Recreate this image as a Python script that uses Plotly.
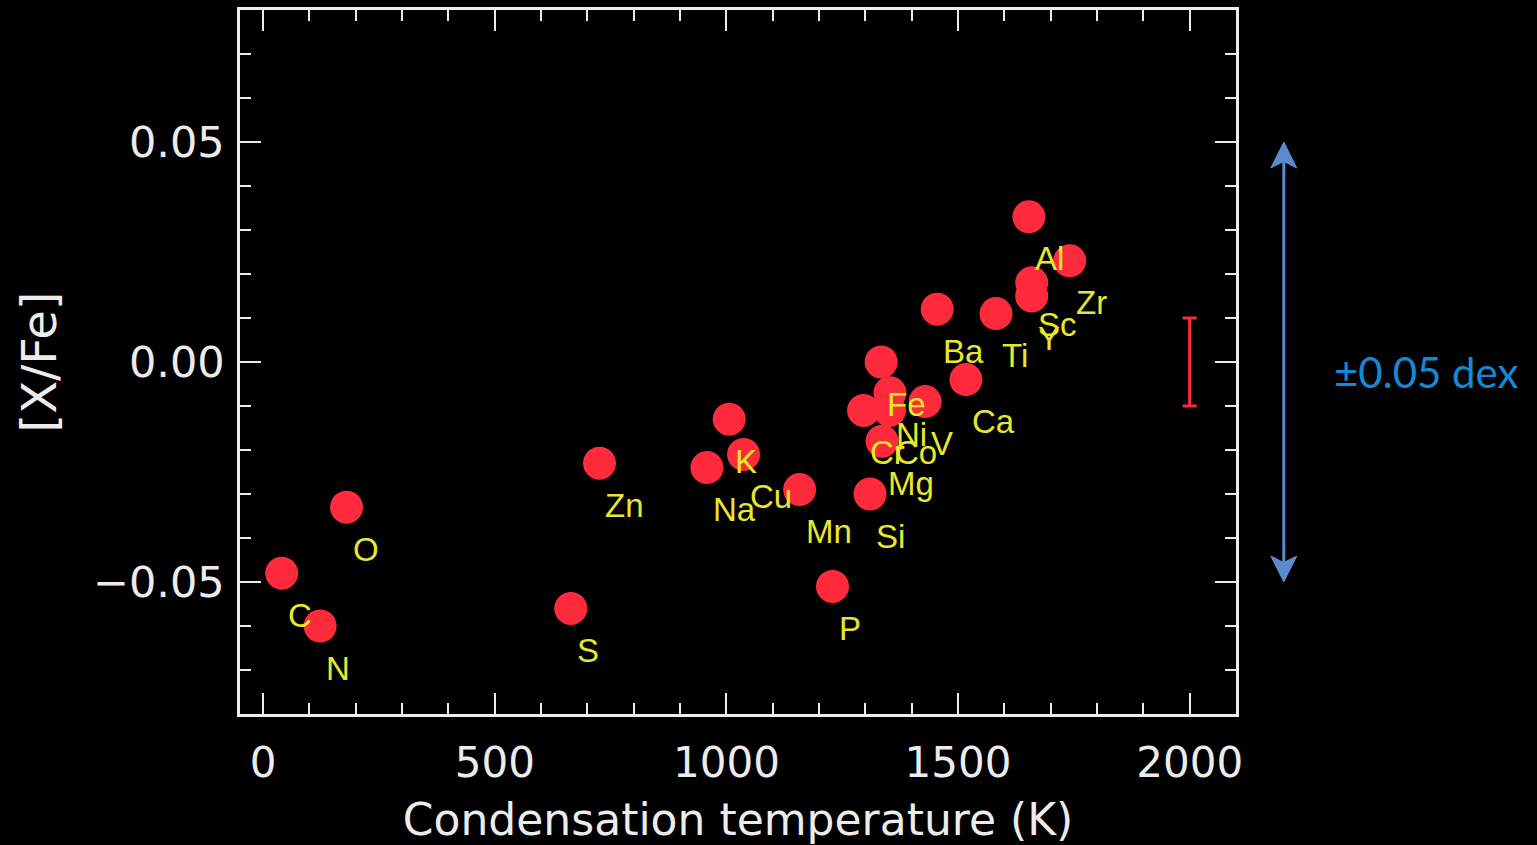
import plotly.graph_objects as go

# ---- data ----
elements = ["C", "N", "O", "S", "Zn", "Na", "K", "Cu", "Mn", "P", "Cr", "Si",
            "Fe", "Mg", "Co", "Ni", "V", "Ba", "Ca", "Ti", "Al", "Sc", "Y", "Zr"]
tcond = [40, 123, 180, 664, 726, 958, 1006, 1037, 1158, 1229, 1296, 1310,
         1334, 1336, 1352, 1353, 1429, 1455, 1517, 1582, 1653, 1659, 1659, 1741]
xfe = [-0.048, -0.060, -0.033, -0.056, -0.023, -0.024, -0.013, -0.021, -0.029,
       -0.051, -0.011, -0.030, 0.000, -0.018, -0.011, -0.007, -0.009, 0.012,
       -0.004, 0.011, 0.033, 0.018, 0.015, 0.023]

err_x = [2000]
err_y = [0.0]
err_val = [0.01]

dex = 0.05
dex_label = "±0.05 dex"

x_title = "Condensation temperature (K)"
y_title = "[X/Fe]"

RED = "#ff2b3d"
YELLOW = "#e8e82a"
WHITE = "#ececec"
BLUE_ARROW = "#5b8bcf"
BLUE_TEXT = "#128ad6"
FONT = "DejaVu Sans"

fig = go.Figure()

fig.add_trace(go.Scatter(
    x=tcond, y=xfe, mode="markers",
    marker=dict(size=33, color=RED, line=dict(width=0)),
    hoverinfo="text", text=elements, showlegend=False,
))

fig.add_trace(go.Scatter(
    x=err_x, y=err_y, mode="markers",
    marker=dict(size=1, color=RED),
    error_y=dict(type="data", array=err_val, color=RED, thickness=3, width=7),
    showlegend=False, hoverinfo="skip",
))

annotations = []
for el, xv, yv in zip(elements, tcond, xfe):
    annotations.append(dict(
        x=xv, y=yv, xref="x", yref="y", text=el, showarrow=False,
        xanchor="left", yanchor="middle", xshift=4, yshift=-42,
        font=dict(family="Liberation Sans", size=33, color=YELLOW),
    ))

# "±0.05 dex" side note
arrow_x = 1.048
head_len = 0.0059
head_half = 0.013
annotations.append(dict(
    x=1.096, y=0.486, xref="paper", yref="paper", text=dex_label,
    showarrow=False, xanchor="left", yanchor="middle",
    font=dict(family="Lato", size=42, color=BLUE_TEXT),
))

shapes = [
    dict(type="line", xref="paper", yref="y",
         x0=arrow_x, x1=arrow_x, y0=-dex + head_len * 0.6, y1=dex - head_len * 0.6,
         line=dict(color=BLUE_ARROW, width=3)),
]
for sgn in (1, -1):
    tip = sgn * dex
    base = tip - sgn * head_len
    notch = tip - sgn * head_len * 0.75
    path = (f"M {arrow_x},{tip} L {arrow_x - head_half},{base} "
            f"L {arrow_x},{notch} L {arrow_x + head_half},{base} Z")
    shapes.append(dict(type="path", xref="paper", yref="y", path=path,
                       fillcolor=BLUE_ARROW, line=dict(color=BLUE_ARROW, width=1)))

axis_common = dict(
    showgrid=False, zeroline=False, showline=True, linecolor=WHITE, linewidth=2.5,
    mirror="ticks", ticks="inside", ticklen=21, tickwidth=2, tickcolor=WHITE,
    automargin=False,
)

fig.update_layout(
    width=1537, height=845,
    margin=dict(l=240, r=301, t=10, b=131),
    paper_bgcolor="black", plot_bgcolor="black",
    xaxis=dict(
        range=[-50, 2100], tick0=0, dtick=500,
        minor=dict(dtick=100, ticks="inside", ticklen=11, tickwidth=2, tickcolor=WHITE),
        ticklabelstandoff=10,
        tickfont=dict(family=FONT, size=42, color=WHITE),
        title=dict(text=x_title, font=dict(family=FONT, size=44, color=WHITE), standoff=23),
        **axis_common,
    ),
    yaxis=dict(
        range=[-0.08, 0.08], tick0=0, dtick=0.05, tickformat=".2f",
        minor=dict(dtick=0.01, ticks="inside", ticklen=11, tickwidth=2, tickcolor=WHITE),
        ticklabelstandoff=4,
        tickfont=dict(family=FONT, size=43, color=WHITE),
        title=dict(text=y_title, font=dict(family=FONT, size=48, color=WHITE), standoff=22),
        **axis_common,
    ),
    annotations=annotations,
    shapes=shapes,
)

fig.write_html("out.html",
               config={"displayModeBar": False},
               post_script="document.body.style.margin='0';document.body.style.background='black';")
